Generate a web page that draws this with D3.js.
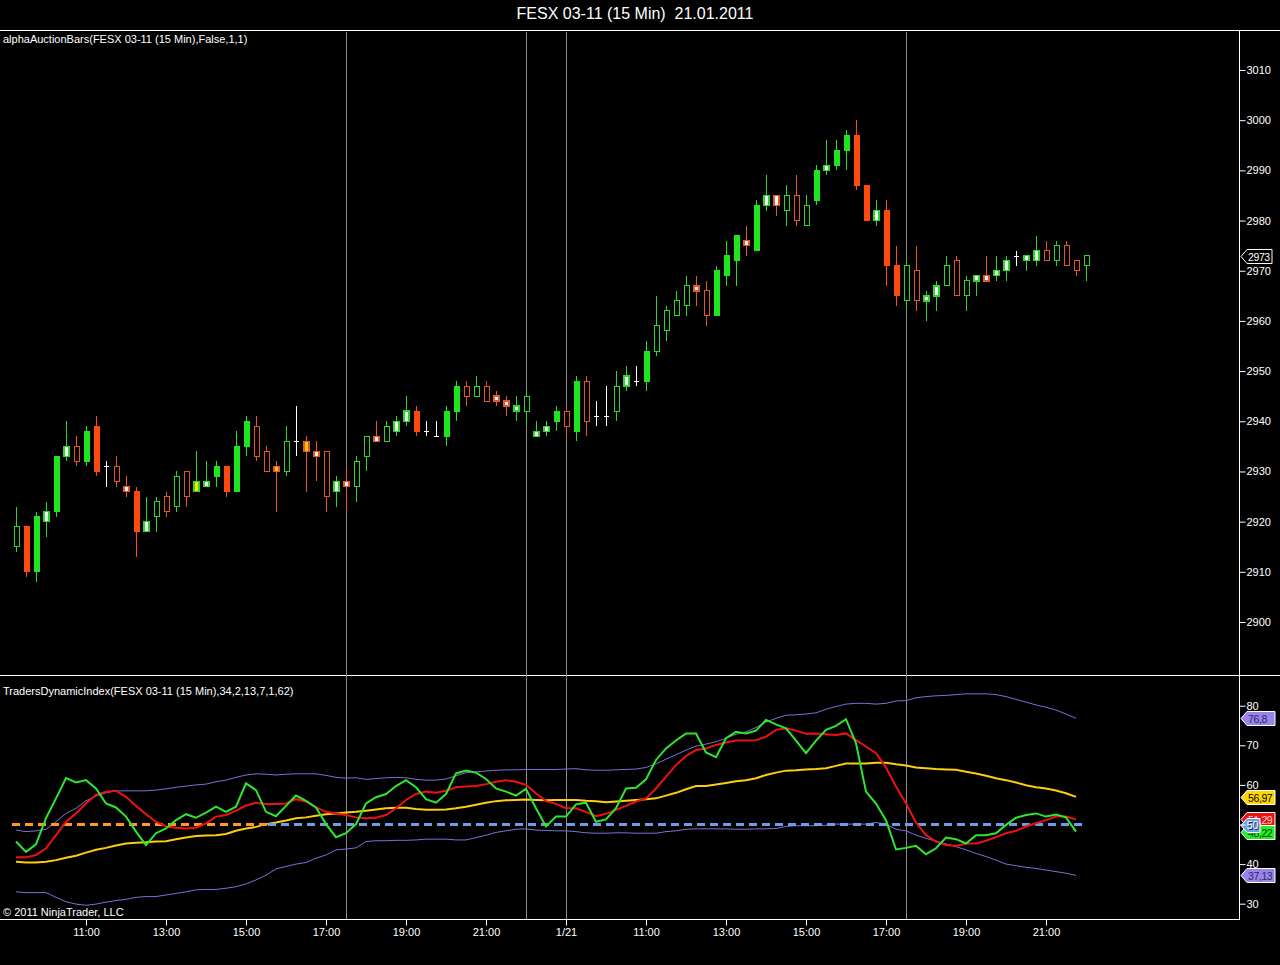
<!DOCTYPE html>
<html>
<head>
<meta charset="utf-8">
<script src="https://cdn.jsdelivr.net/npm/d3@7"></script>
<style>
  body { margin: 0; background: #000; }
  svg { display: block; font-family: "Liberation Sans", Arial, sans-serif; }
  .lbl { fill: #fff; font-size: 11px; }
  .axis text { fill: #fff; font-size: 11px; font-family: "Liberation Sans", Arial, sans-serif; }
  .axis line { stroke: #fff; }
  .axis path { display: none; }
</style>
</head>
<body>
<div id="chart"></div>
<script>
// sessions of the 15 min bars (bar close times)
var sessions = [
  {day: "2011-01-20", first: "09:15", bars: 52},
  {day: "2011-01-21", first: "08:15", bars: 56}
];

// OHLC of every bar
var barOpen  = [2915,2919,2910,2920,2922,2933,2935,2932,2939,2931, 2931,2927,2926,2918,2921,2925,2923,2930,2926,2927,
                2929,2931,2926,2935,2939,2934,2931,2930,2936,2936, 2934,2934,2926,2928,2927,2933,2937,2936,2938,2940,
                2942,2938,2937,2937,2942,2947,2945,2947,2945,2944, 2942,2942,2937,2938,2940,2942,2938,2948,2941,2941,
                2942,2947,2948,2948,2954,2958,2961,2963,2967,2966, 2961,2969,2972,2976,2974,2983,2985,2982,2985,2979,
                2984,2990,2991,2994,2997,2987,2980,2982,2971,2964, 2970,2964,2965,2967,2972,2965,2968,2969,2969,2970,
                2973,2972,2972,2974,2972,2975,2972,2971];
var barHigh  = [2923,2919,2922,2924,2933,2940,2937,2939,2941,2932, 2933,2929,2927,2925,2925,2926,2930,2930,2934,2932,
                2932,2931,2938,2941,2941,2935,2932,2939,2943,2937, 2936,2934,2929,2931,2933,2937,2940,2940,2941,2945,
                2943,2940,2940,2943,2948,2948,2949,2948,2946,2945, 2945,2946,2940,2940,2943,2943,2949,2949,2944,2947,
                2950,2951,2951,2956,2965,2963,2966,2969,2969,2968, 2971,2976,2977,2979,2984,2989,2985,2987,2989,2985,
                2991,2996,2996,2998,3000,2987,2984,2984,2975,2972, 2975,2966,2968,2973,2973,2969,2969,2973,2973,2973,
                2974,2973,2977,2976,2976,2976,2972,2973];
var barLow   = [2914,2909,2908,2917,2921,2932,2931,2931,2929,2927, 2927,2925,2913,2918,2918,2921,2922,2923,2926,2927,
                2927,2925,2926,2933,2932,2930,2922,2929,2933,2926, 2928,2922,2923,2922,2924,2930,2936,2936,2937,2939,
                2937,2937,2937,2935,2940,2943,2945,2944,2943,2941, 2940,2939,2937,2937,2938,2936,2936,2937,2939,2939,
                2940,2946,2947,2946,2953,2956,2961,2961,2963,2959, 2961,2967,2967,2973,2974,2982,2981,2979,2979,2979,
                2983,2989,2990,2990,2986,2980,2979,2967,2963,2962, 2962,2960,2962,2967,2965,2962,2965,2968,2968,2968,
                2971,2970,2971,2972,2971,2971,2969,2968];
var barClose = [2919,2910,2921,2922,2933,2935,2932,2938,2930,2931, 2928,2926,2918,2920,2924,2922,2929,2925,2928,2928,
                2931,2926,2935,2940,2933,2930,2930,2936,2936,2934, 2933,2925,2928,2927,2932,2937,2936,2939,2940,2942,
                2938,2938,2937,2942,2947,2945,2947,2944,2944,2943, 2943,2945,2938,2939,2942,2939,2948,2940,2941,2941,
                2947,2949,2948,2954,2959,2962,2964,2967,2966,2961, 2970,2973,2977,2975,2983,2985,2983,2985,2980,2983,
                2990,2991,2994,2997,2987,2980,2982,2971,2965,2971, 2964,2965,2967,2971,2965,2968,2969,2968,2970,2972,
                2973,2973,2974,2972,2975,2971,2970,2973];
// alphaAuctionBars classification of each bar
var barType  = ["g","R","G","wg","G","wg","r","G","R","d", "r","wr","R","wg","g","r","g","r","yg","wg",
                "G","R","G","G","r","r","yr","g","d","yr", "wr","r","wg","wr","g","g","wr","g","wg","wg",
                "R","d","d","G","G","r","g","r","wr","wr", "wg","g","wg","wg","G","r","G","r","d","d",
                "g","wg","d","G","g","g","g","g","wr","r", "G","G","G","wr","G","wg","wr","g","r","g",
                "G","wg","G","G","R","R","wg","R","R","g", "r","wg","wg","g","r","g","wg","wr","wg","wg",
                "d","wg","wg","r","g","r","r","g"];

// TradersDynamicIndex series (last bar not calculated)
var priceLine  = [45.7,43.1,45.0,51.6,56.6,61.7,60.6,61.2,59.1,55.3, 54.3,52.0,48.2,44.8,47.8,49.0,51.1,52.6,51.7,53.0,
                  54.5,53.2,54.5,60.4,58.7,53.2,52.1,54.7,57.3,56.0, 54.3,50.1,46.8,47.8,50.1,55.3,56.9,57.7,59.7,61.2,
                  59.4,56.4,55.5,57.7,62.9,63.6,63.1,61.5,59.1,58.3, 57.3,59.0,54.1,49.5,52.0,52.0,55.1,55.5,50.7,51.3,
                  54.1,59.1,59.3,61.4,66.3,69.2,71.2,73.0,73.0,68.2, 67.0,71.8,73.4,73.0,73.7,76.4,75.3,74.3,71.2,68.0,
                  71.2,73.9,74.9,76.6,70.5,58.3,55.3,51.1,43.7,44.1, 44.6,42.5,44.0,46.7,46.3,45.2,47.3,47.3,47.8,49.9,
                  51.7,52.4,52.8,52.0,52.5,51.8,48.22];
var signalLine = [41.7,41.7,42.3,44.0,47.3,50.7,52.8,55.3,57.5,58.3, 58.5,57.0,54.7,52.6,50.7,49.5,49.2,49.0,49.2,50.3,
                  52.0,52.4,53.5,54.8,55.5,55.2,55.2,55.3,56.4,55.8, 54.3,53.2,52.8,52.4,51.8,51.6,51.7,52.4,54.1,56.2,
                  57.7,58.3,58.0,58.5,59.4,59.6,59.7,60.2,60.8,61.2, 60.8,60.0,57.9,55.9,55.2,54.1,54.1,53.2,52.1,52.7,
                  53.7,54.7,55.8,56.6,59.1,62.1,65.0,67.3,68.8,69.2, 70.1,70.7,71.2,71.2,71.3,72.2,73.9,74.3,73.7,72.9,
                  73.0,72.8,72.6,73.0,71.3,69.7,68.0,64.4,59.6,55.3, 50.5,47.3,45.7,44.8,44.6,45.2,45.2,45.9,46.8,47.8,
                  48.4,49.5,50.3,51.1,52.0,52.0,51.29];
var baseLine   = [40.6,40.4,40.4,40.6,41.0,41.6,42.1,42.9,43.6,44.1, 44.7,45.2,45.4,45.5,45.7,45.8,46.3,46.7,47.1,47.2,
                  47.3,47.6,48.4,49.0,49.4,50.1,50.5,51.0,51.6,51.8, 52.2,52.6,52.8,53.0,53.2,53.5,53.8,54.1,54.2,54.2,
                  53.9,53.7,53.7,53.8,54.1,54.5,55.0,55.5,55.9,56.1, 56.2,56.3,56.2,56.1,56.2,56.2,56.2,56.0,55.9,55.6,
                  55.8,56.0,56.2,56.4,56.6,57.3,58.0,58.9,59.7,59.7, 60.1,60.5,60.9,61.2,61.7,62.5,63.1,63.6,63.7,63.9,
                  64.0,64.2,64.8,65.4,65.4,65.4,65.6,65.6,65.2,64.9, 64.4,64.2,64.0,63.9,63.8,63.3,62.9,62.3,61.7,61.2,
                  60.6,59.9,59.4,59.1,58.6,57.9,56.97];
var upperBand  = [48.6,48.2,48.4,48.8,50.7,52.8,54.1,56.0,57.2,58.0, 58.5,58.5,58.5,58.5,58.7,59.0,59.4,59.7,60.0,60.2,
                  60.8,61.2,61.9,62.5,62.8,62.7,62.5,62.7,62.8,62.8, 62.8,62.4,61.9,61.7,61.8,61.4,61.6,61.8,61.9,61.8,
                  61.4,61.2,61.2,61.5,62.3,63.1,63.3,63.5,63.7,63.8, 63.8,63.9,63.9,63.9,63.9,64.0,64.1,63.8,63.7,63.7,
                  63.8,63.9,64.0,64.4,65.3,66.5,67.6,68.8,69.8,70.3, 70.9,71.8,72.8,73.4,74.5,75.9,76.8,77.6,77.7,77.9,
                  78.2,79.1,79.8,80.4,80.6,80.6,80.4,80.6,81.2,81.3, 82.0,82.3,82.5,82.6,82.8,83.0,83.0,83.0,82.8,82.3,
                  81.6,80.9,80.2,79.6,78.9,77.9,76.8];
var lowerBand  = [33.0,32.8,32.8,32.8,31.6,30.5,29.9,29.6,29.9,30.4, 30.8,31.1,31.6,31.8,31.8,32.2,32.6,33.0,33.5,33.6,
                  33.6,33.9,34.3,35.0,36.0,37.2,38.8,39.4,40.0,40.4, 41.5,42.3,43.6,43.8,44.1,45.7,45.9,45.9,46.0,46.0,
                  46.1,46.3,46.3,46.3,46.1,46.1,46.7,47.3,48.0,48.4, 48.8,48.9,48.6,48.5,48.4,48.4,48.2,47.9,47.8,47.8,
                  47.9,47.9,47.8,47.8,47.8,48.2,48.4,48.8,48.9,48.9, 48.9,48.9,48.8,48.8,48.9,48.9,49.0,49.5,49.7,49.7,
                  49.7,49.8,50.1,50.1,50.1,50.1,50.5,50.1,48.8,48.4, 47.3,46.5,45.8,45.1,44.4,43.6,42.7,41.9,41.0,40.0,
                  39.6,39.2,38.9,38.5,38.1,37.7,37.13];
var midLevel = 50;

var priceTicks = [2900,2910,2920,2930,2940,2950,2960,2970,2980,2990,3000,3010];
var indTicks = [30,40,50,60,70,80];
var markerTimes = ["2011-01-20 17:30","2011-01-20 22:00","2011-01-21 09:00","2011-01-21 17:30"];

// build bar times
var parse = d3.timeParse("%Y-%m-%d %H:%M");
var barTimes = [];
sessions.forEach(function(s) {
    var t0 = parse(s.day + " " + s.first);
    for (var k = 0; k < s.bars; k++) barTimes.push(d3.timeMinute.offset(t0, 15 * k));
});
var timeKey = d3.timeFormat("%Y-%m-%d %H:%M");
function barIndex(str) { return barTimes.findIndex(function(t) { return timeKey(t) === str; }); }

var width = 1280, height = 965;
var axisX = 1239, panelTop = 30, splitY = 675, bottomY = 919;

var svg = d3.select("#chart").append("svg")
    .attr("width", width)
    .attr("height", height);
svg.append("rect").attr("width", width).attr("height", height).attr("fill", "#000");

var x = d3.scaleLinear().domain([0, barTimes.length - 1]).range([16, 1086]);
var yPrice = d3.scaleLinear().domain([2900, 3010]).range([622, 70]);
var yInd = d3.scaleLinear().domain([30, 80]).range([903.7, 705.7]);

// frame lines
svg.append("line").attr("x1", 0).attr("x2", width).attr("y1", panelTop + 0.5).attr("y2", panelTop + 0.5).attr("stroke", "#fff");
svg.append("line").attr("x1", 0).attr("x2", width).attr("y1", splitY + 0.5).attr("y2", splitY + 0.5).attr("stroke", "#fff");
svg.append("line").attr("x1", 0).attr("x2", axisX).attr("y1", bottomY + 0.5).attr("y2", bottomY + 0.5).attr("stroke", "#fff");
svg.append("line").attr("x1", axisX + 0.5).attr("x2", axisX + 0.5).attr("y1", panelTop).attr("y2", bottomY + 1).attr("stroke", "#fff");

// session marker lines
svg.append("g").selectAll("line")
    .data(markerTimes.map(barIndex))
    .enter().append("line")
        .attr("x1", function(d) { return Math.round(x(d)) + 0.5; })
        .attr("x2", function(d) { return Math.round(x(d)) + 0.5; })
        .attr("y1", panelTop + 2)
        .attr("y2", bottomY)
        .attr("stroke", "#8a8a8a");

// titles
svg.append("text").attr("x", 635).attr("y", 19).attr("text-anchor", "middle")
    .style("white-space", "pre")
    .attr("fill", "#fff").attr("font-size", 16).text("FESX 03-11 (15 Min)  21.01.2011");
svg.append("text").attr("class", "lbl").attr("x", 3).attr("y", 43).text("alphaAuctionBars(FESX 03-11 (15 Min),False,1,1)");
svg.append("text").attr("class", "lbl").attr("x", 3).attr("y", 695).text("TradersDynamicIndex(FESX 03-11 (15 Min),34,2,13,7,1,62)");
svg.append("text").attr("class", "lbl").attr("x", 3).attr("y", 916).text("\u00a9 2011 NinjaTrader, LLC");

// candles
var barStyle = {
    G:  {fill: "#1ee61e", stroke: "#1ee61e", sw: 1},
    g:  {fill: "#000",    stroke: "#2fd42f", sw: 1},
    R:  {fill: "#ff4a0f", stroke: "#ff4a0f", sw: 1},
    r:  {fill: "#000",    stroke: "#e2582a", sw: 1},
    wg: {fill: "#eaffea", stroke: "#2fd42f", sw: 1.5},
    wr: {fill: "#fff4ef", stroke: "#e2582a", sw: 1.5},
    yg: {fill: "#ffe000", stroke: "#2fd42f", sw: 1.5},
    yr: {fill: "#ffc400", stroke: "#e2582a", sw: 1.5},
    d:  {fill: "#fff",    stroke: "#fff",    sw: 1}
};
var bars = barOpen.map(function(o, i) {
    return {i: i, o: o, h: barHigh[i], l: barLow[i], c: barClose[i], t: barType[i]};
});
var bodyW = (x(1) - x(0)) * 0.5;

var candle = svg.append("g").attr("shape-rendering", "crispEdges")
    .selectAll("g")
    .data(bars)
    .enter().append("g")
        .attr("transform", function(d) { return "translate(" + Math.round(x(d.i)) + ",0)"; });

candle.append("line")
    .attr("x1", 0.5).attr("x2", 0.5)
    .attr("y1", function(d) { return yPrice(d.h); })
    .attr("y2", function(d) { return yPrice(d.l); })
    .attr("stroke", function(d) { return barStyle[d.t].stroke; });

candle.filter(function(d) { return d.t !== "d"; }).append("rect")
    .attr("x", -bodyW / 2 + 0.5)
    .attr("y", function(d) { return yPrice(Math.max(d.o, d.c)); })
    .attr("width", bodyW)
    .attr("height", function(d) { return Math.max(3, yPrice(Math.min(d.o, d.c)) - yPrice(Math.max(d.o, d.c))); })
    .attr("fill", function(d) { return barStyle[d.t].fill; })
    .attr("stroke", function(d) { return barStyle[d.t].stroke; })
    .attr("stroke-width", function(d) { return barStyle[d.t].sw; });

candle.filter(function(d) { return d.t === "d"; }).append("line")
    .attr("x1", -bodyW / 2 + 0.5).attr("x2", bodyW / 2 + 0.5)
    .attr("y1", function(d) { return Math.round(yPrice(d.o)) + 0.5; })
    .attr("y2", function(d) { return Math.round(yPrice(d.o)) + 0.5; })
    .attr("stroke", "#fff");

// price axis
svg.append("g").attr("class", "axis")
    .attr("transform", "translate(" + (axisX + 0.5) + ",0)")
    .call(d3.axisRight(yPrice).tickValues(priceTicks).tickSize(6).tickPadding(1).tickFormat(d3.format("d")));

// value tags on the right axis
function tag(g, yv, label, fill, stroke, textFill, w) {
    var yy = Math.round(yv);
    g.append("path")
        .attr("d", "M" + (axisX + 2) + "," + (yy + 0.5) + "L" + (axisX + 8) + "," + (yy - 6.5) +
                   "H" + (axisX + w) + "V" + (yy + 7.5) + "H" + (axisX + 8) + "Z")
        .attr("fill", fill).attr("stroke", stroke);
    g.append("text").attr("x", axisX + 9).attr("y", yy + 4.5)
        .attr("font-size", 10.5).attr("letter-spacing", -0.4)
        .attr("fill", textFill).text(label);
}
var tags = svg.append("g");
tag(tags, yPrice(barClose[barClose.length - 1]), String(barClose[barClose.length - 1]), "#000", "#fff", "#fff", 33);

// indicator panel
var line = d3.line()
    .x(function(d, i) { return x(i); })
    .y(function(d) { return yInd(d); });

var ind = svg.append("g");
ind.append("path").datum(upperBand).attr("d", line).attr("fill", "none").attr("stroke", "#7a70d8").attr("stroke-width", 1);
ind.append("path").datum(lowerBand).attr("d", line).attr("fill", "none").attr("stroke", "#7a70d8").attr("stroke-width", 1);
ind.append("path").datum(baseLine).attr("d", line).attr("fill", "none").attr("stroke", "#ffcc11").attr("stroke-width", 2);

ind.append("line")
    .attr("x1", x(25.2)).attr("x2", x(106.7))
    .attr("y1", yInd(midLevel)).attr("y2", yInd(midLevel))
    .attr("stroke", "#6f9be8").attr("stroke-width", 3).attr("stroke-dasharray", "8,5");
ind.append("line")
    .attr("x1", x(-0.4)).attr("x2", x(25.2))
    .attr("y1", yInd(midLevel)).attr("y2", yInd(midLevel))
    .attr("stroke", "#ff9922").attr("stroke-width", 3).attr("stroke-dasharray", "8,5");

ind.append("path").datum(signalLine).attr("d", line).attr("fill", "none").attr("stroke", "#ee1111").attr("stroke-width", 2);
ind.append("path").datum(priceLine).attr("d", line).attr("fill", "none").attr("stroke", "#2ee62e").attr("stroke-width", 2);

svg.append("g").attr("class", "axis")
    .attr("transform", "translate(" + (axisX + 0.5) + ",0)")
    .call(d3.axisRight(yInd).tickValues(indTicks).tickSize(6).tickPadding(1));

function comma(v) { return String(v).replace(".", ","); }
var last = priceLine.length - 1;
tag(tags, yInd(upperBand[last]), comma(upperBand[last]), "#9a84ea", "#fff", "#2a2a66", 36);
tag(tags, yInd(lowerBand[last]), comma(lowerBand[last]), "#9a84ea", "#fff", "#2a2a66", 36);
tag(tags, yInd(baseLine[last]), comma(baseLine[last]), "#ffd700", "#fff", "#000", 36);
tag(tags, yInd(signalLine[last]), comma(signalLine[last]), "#ee1111", "#fff", "#ffd0d0", 36);
tag(tags, yInd(priceLine[last]), comma(priceLine[last]), "#22ee22", "#fff", "#0a3a0a", 36);
tag(tags, yInd(midLevel), String(midLevel), "#6f9be8", "#fff", "#0a1a44", 21);

// time axis
var tickIdx = barTimes.map(function(t, i) { return i; })
    .filter(function(i) { var t = barTimes[i]; return t.getMinutes() === 0 && t.getHours() % 2 === 1; });
var fmtHour = d3.timeFormat("%H:%M"), fmtDay = d3.timeFormat("%-m/%-d");
svg.append("g").attr("class", "axis")
    .attr("transform", "translate(0," + (bottomY + 0.5) + ")")
    .call(d3.axisBottom(x).tickValues(tickIdx).tickSize(6).tickPadding(3)
        .tickFormat(function(i) {
            var t = barTimes[i];
            return t.getHours() === 9 ? fmtDay(t) : fmtHour(t);
        }));
</script>
</body>
</html>
